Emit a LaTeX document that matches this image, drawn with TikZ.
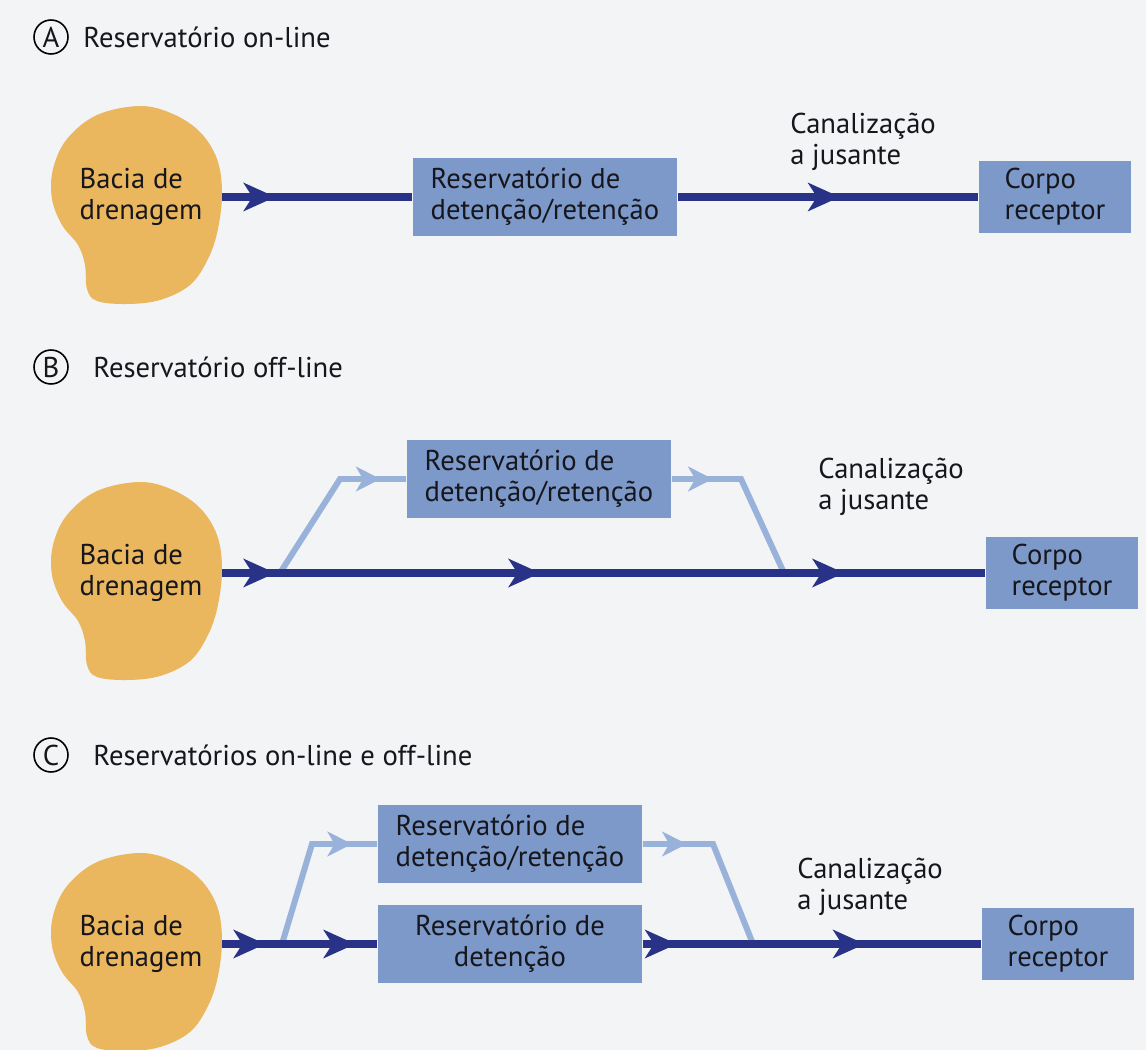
\documentclass[tikz,border=0pt]{standalone}
\usepackage{fontspec}
\setmainfont{PT Sans}
\usepackage{tikz}
\usetikzlibrary{arrows.meta,positioning,calc,decorations.markings}
\definecolor{fundo}{RGB}{243,244,246}
\definecolor{laranja}{RGB}{234,183,94}
\definecolor{caixa}{RGB}{124,153,201}
\definecolor{escuro}{RGB}{40,50,135}
\definecolor{claro}{RGB}{152,178,218}
\definecolor{texto}{RGB}{22,22,28}

\begin{document}
\begin{tikzpicture}[x=0.02cm,y=-0.02cm,
  every node/.style={font=\fontsize{16.3}{17.6}\selectfont,text=texto,align=center},
  res/.style={fill=caixa,minimum width=5.3cm,minimum height=1.56cm,inner sep=0pt,align=left},
  corpo/.style={fill=caixa,minimum width=3.06cm,minimum height=1.46cm,align=left,inner sep=0pt},
  rotulo/.style={draw,circle,line width=0.9pt,minimum size=0.68cm,inner sep=0pt},
  titulo/.style={anchor=west,inner sep=0pt},
  canal/.style={anchor=west,align=left,inner sep=0pt},
  fluxo/.style={escuro,line width=4.4pt},
  desvio/.style={claro,line width=3.4pt},
  seta/.style={postaction={decorate,decoration={markings,
    mark=at position #1 with {\arrow{Stealth[length=18pt,width=16pt,inset=5pt]}}}}},
  setaclara/.style={postaction={decorate,decoration={markings,
    mark=at position #1 with {\arrow{Stealth[length=14pt,width=14pt,inset=4pt]}}}}},
]
  \fill[fundo] (0,0) rectangle (1146,1050);
  \useasboundingbox (0,0) rectangle (1146,1050);

  % bacias de drenagem
  \foreach \n/\y in {A/197,B/573,C/944}{
    \fill[laranja,shift={(130,\y)}] plot[smooth cycle,tension=0.6] coordinates {
      (10,-91) (43,-83) (70,-65) (87,-38) (92,-5) (88,32) (78,62) (60,88)
      (30,103) (-3,107) (-33,104) (-43,92) (-45,68) (-52,48) (-68,28)
      (-78,2) (-77,-28) (-63,-58) (-33,-82)};
    \node[minimum width=3.24cm,align=left] (bacia\n) at (141,\y) {Bacia de\\drenagem};
  }

  % A
  \node[rotulo] (rotA) at (51,37) {A};
  \node[titulo] (titA) at (83,37) {Reservatório on-line};
  \node[res] (resA) at (545,197) {Reservatório de\\detenção/retenção};
  \node[corpo] (corpoA) at (1055,197) {Corpo\\receptor};
  \node[canal] (canA) at (790,142) {Canalização\\a jusante};
  \draw[fluxo,seta=1.06cm] (baciaA.east) -- (resA.west);
  \draw[fluxo,seta=3.24cm] (resA.east) -- (corpoA.west);

  % B
  \node[rotulo] (rotB) at (51,367) {B};
  \node[titulo] (titB) at (93,367) {Reservatório off-line};
  \node[res] (resB) at (539,479) {Reservatório de\\detenção/retenção};
  \node[corpo] (corpoB) at (1062,573) {Corpo\\receptor};
  \node[canal] (canB) at (818,487) {Canalização\\a jusante};
  \coordinate (divB) at (280,573);
  \coordinate (subB) at (340,479);
  \coordinate (desB) at (741,479);
  \coordinate (junB) at (784,573);
  \draw[desvio,setaclara=3.04cm] (divB) -- (subB) -- (resB.west);
  \draw[desvio,setaclara=0.82cm] (resB.east) -- (desB) -- (junB);
  \draw[fluxo,seta=1.06cm,seta=6.36cm,seta=12.44cm] (baciaB.east) -- (corpoB.west);

  % C
  \node[rotulo] (rotC) at (51,755) {C};
  \node[titulo] (titC) at (93,755) {Reservatórios on-line e off-line};
  \node[res] (resC1) at (510,844) {Reservatório de\\detenção/retenção};
  \node[res,align=center] (resC2) at (510,944) {Reservatório de\\detenção};
  \node[corpo] (corpoC) at (1058,944) {Corpo\\receptor};
  \node[canal] (canC) at (797,887) {Canalização\\a jusante};
  \coordinate (divC) at (282,944);
  \coordinate (subC) at (312,844);
  \coordinate (desC) at (713,844);
  \coordinate (junC) at (753,944);
  \draw[desvio,setaclara=2.89cm] (divC) -- (subC) -- (resC1.west);
  \draw[desvio,setaclara=0.88cm] (resC1.east) -- (desC) -- (junC);
  \draw[fluxo,seta=0.86cm,seta=2.66cm] (baciaC.east) -- (resC2.west);
  \draw[fluxo,seta=0.68cm,seta=4.44cm] (resC2.east) -- (corpoC.west);
\end{tikzpicture}
\end{document}
